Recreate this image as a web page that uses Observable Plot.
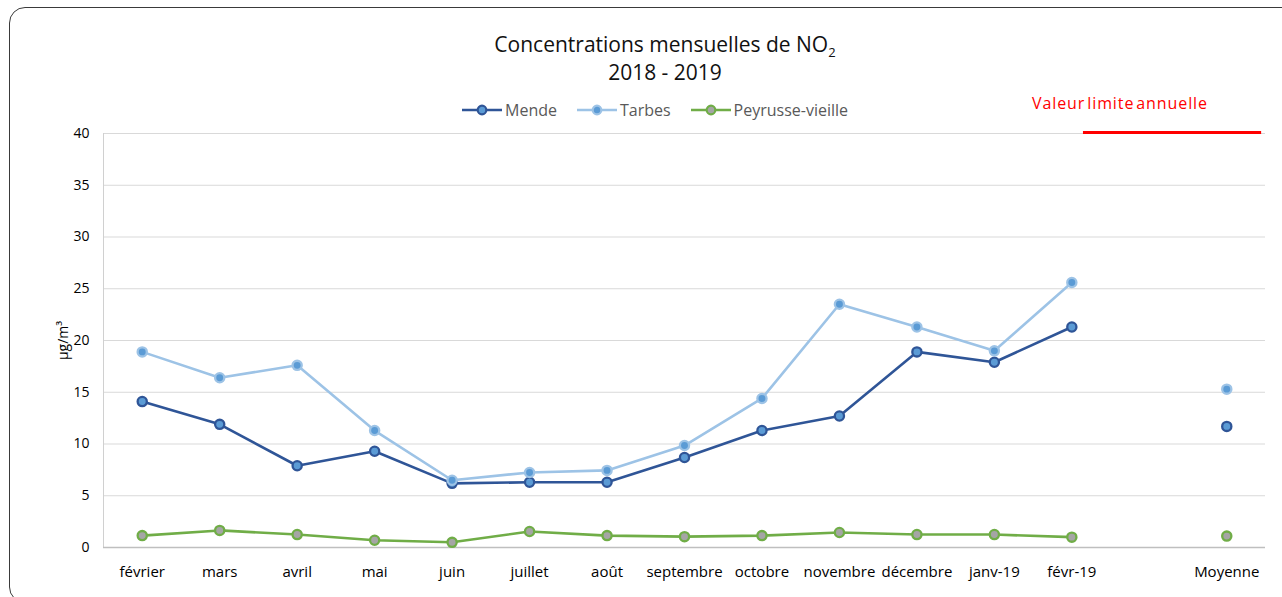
<!DOCTYPE html>
<html>
<head>
<meta charset="utf-8">
<script src="https://cdn.jsdelivr.net/npm/d3@7"></script>
<script src="https://cdn.jsdelivr.net/npm/@observablehq/plot@0.6"></script>
<style>
  html, body { margin: 0; padding: 0; background: #fff; overflow: hidden; }
  #wrap { position: relative; width: 1282px; height: 597px; font-family: "Open Sans", "Liberation Sans", sans-serif; }
  #frame { position: absolute; left: 9px; top: 7px; width: 1290px; height: 596px; border: 1.5px solid #3a3a3a; border-radius: 16px; box-sizing: border-box; }
  #title { position: absolute; left: 0; width: 1330px; top: 30px; text-align: center; font-size: 21px; line-height: 28px; color: #111; }
  #title sub { font-size: 13px; vertical-align: baseline; position: relative; top: 5px; line-height: 0; }
  #legend { position: absolute; top: 99px; left: 462px; display: flex; gap: 20px; font-size: 16px; color: #595959; }
  .item { display: flex; align-items: center; gap: 3px; }
  #limit { position: absolute; left: 1032px; top: 92px; font-size: 16px; color: #ff0000; word-spacing: -3px; letter-spacing: 0.9px; }
  #chart { position: absolute; left: 0; top: 0; }
</style>
</head>
<body>
<div id="wrap">
  <div id="frame"></div>
  <div id="title">Concentrations mensuelles de NO<sub>2</sub><br>2018 - 2019</div>
  <div id="legend"></div>
  <div id="limit">Valeur limite annuelle</div>
  <div id="chart"></div>
</div>
<script>
const categories = ["février","mars","avril","mai","juin","juillet","août","septembre","octobre","novembre","décembre","janv-19","févr-19","","Moyenne"];
const months = categories.slice(0, 13);
const mende = [14.1, 11.9, 7.9, 9.3, 6.2, 6.3, 6.3, 8.7, 11.3, 12.7, 18.9, 17.9, 21.3];
const tarbes = [18.9, 16.4, 17.6, 11.3, 6.5, 7.25, 7.45, 9.85, 14.4, 23.5, 21.3, 19.0, 25.6];
const peyrusse = [1.15, 1.65, 1.25, 0.7, 0.5, 1.55, 1.15, 1.05, 1.15, 1.45, 1.25, 1.25, 1.0];
const moyenne = { Mende: 11.7, Tarbes: 15.3, "Peyrusse-vieille": 1.1 };
const limitValue = 40;
const limitSpan = [12.15, 14.45];
const yTicks = [0, 5, 10, 15, 20, 25, 30, 35, 40];

const seriesStyle = [
  { name: "Mende", values: mende, line: "#2F5597", fill: "#5B9BD5", stroke: "#2F5597" },
  { name: "Tarbes", values: tarbes, line: "#9DC3E6", fill: "#5B9BD5", stroke: "#9DC3E6" },
  { name: "Peyrusse-vieille", values: peyrusse, line: "#70AD47", fill: "#A5A5A5", stroke: "#70AD47" }
];

const idx = Object.fromEntries(categories.map((c, i) => [c, i]));
const xTicks = categories.map((c, i) => i).filter(i => categories[i] !== "");
const marks = [
  Plot.gridY(yTicks, { stroke: "#d9d9d9", strokeOpacity: 1, strokeWidth: 1 }),
  Plot.ruleX([-0.5], { y1: 0, y2: 40, stroke: "#d0d0d0" }),
  Plot.ruleY([0], { stroke: "#bfbfbf", strokeWidth: 1.3 }),
  Plot.ruleY([limitValue], { x1: limitSpan[0], x2: limitSpan[1], stroke: "#ff0000", strokeWidth: 3, dy: -1 })
];
for (const s of [seriesStyle[2], seriesStyle[0], seriesStyle[1]]) {
  const data = months.map((m, i) => ({ x: idx[m], y: s.values[i] }));
  marks.push(Plot.line(data, { x: "x", y: "y", stroke: s.line, strokeWidth: 2.6 }));
  marks.push(Plot.dot(data, { x: "x", y: "y", r: 4.6, fill: s.fill, stroke: s.stroke, strokeWidth: 2.3 }));
  marks.push(Plot.dot([{ x: idx["Moyenne"], y: moyenne[s.name] }], { x: "x", y: "y", r: 4.6, fill: s.fill, stroke: s.stroke, strokeWidth: 2.3 }));
}

const plot = Plot.plot({
  width: 1282,
  height: 597,
  marginLeft: 103,
  marginRight: 17,
  marginTop: 133,
  marginBottom: 50,
  style: { fontFamily: "'Open Sans', 'Liberation Sans', sans-serif", fontSize: "15px", color: "#000", background: "transparent" },
  x: { type: "linear", domain: [-0.5, categories.length - 0.5], label: null, axis: null },
  y: { domain: [0, 40], axis: null },
  marks: [
    ...marks,
    Plot.axisX({ ticks: xTicks, tickFormat: i => categories[i], tickSize: 0, tickPadding: 19, label: null, fontSize: 15 }),
    Plot.axisY({ ticks: yTicks, tickSize: 0, tickPadding: 14, label: "µg/m³", labelAnchor: "center", labelArrow: "none", labelOffset: 45, fontSize: 14 })
  ]
});
document.getElementById("chart").appendChild(plot);

const legend = document.getElementById("legend");
for (const s of seriesStyle) {
  const item = document.createElement("div");
  item.className = "item";
  item.innerHTML = `<svg width="40" height="12"><line x1="0" x2="40" y1="6" y2="6" stroke="${s.line}" stroke-width="2.6"/><circle cx="20" cy="6" r="4.3" fill="${s.fill}" stroke="${s.stroke}" stroke-width="2.2"/></svg><span>${s.name}</span>`;
  legend.appendChild(item);
}
</script>
</body>
</html>
